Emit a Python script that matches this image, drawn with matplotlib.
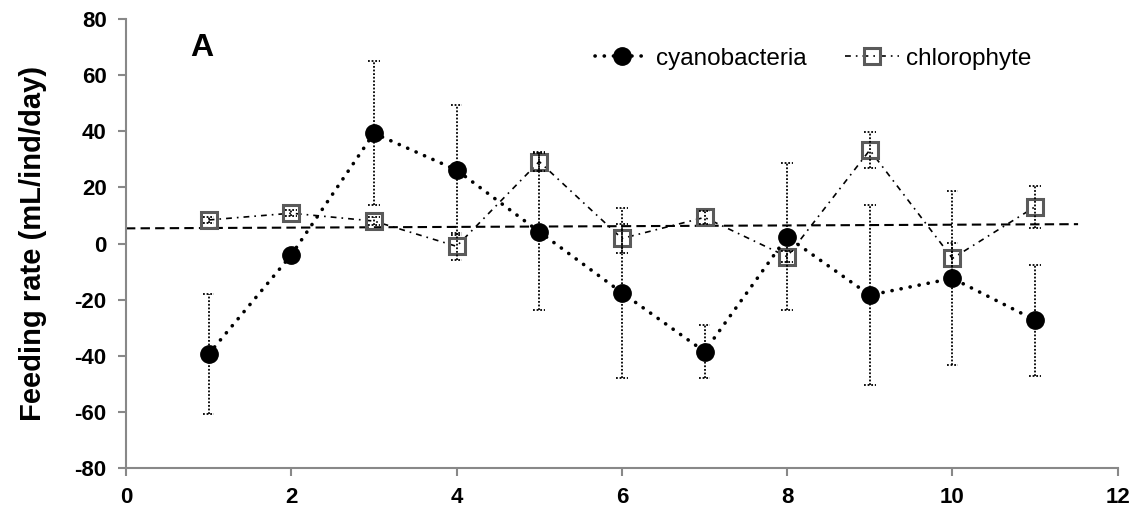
import numpy as np
import matplotlib
matplotlib.use("Agg")
import matplotlib.pyplot as plt

plt.rcParams["font.family"] = ["Liberation Sans", "DejaVu Sans"]
plt.rcParams["axes.unicode_minus"] = False

# ── data ────────────────────────────────────────────────────────────
days = [1, 2, 3, 4, 5, 6, 7, 8, 9, 10, 11]

cyano_mean = [-39.4, -4.1, 39.3, 26.2, 4.2, -17.5, -38.5, 2.4, -18.4, -12.4, -27.3]
cyano_err = [21.5, 0.0, 25.6, 23.2, 27.9, 30.3, 9.5, 26.2, 32.0, 31.0, 19.8]

chloro_mean = [8.4, 10.8, 8.0, -1.0, 29.2, 1.8, 9.3, -4.7, 33.3, -5.3, 13.1]
chloro_err = [1.0, 1.0, 1.5, 4.7, 3.5, 5.3, 2.4, 2.0, 6.5, 5.6, 7.5]

trend_x = [0.0, 11.52]
trend_y = [5.4, 6.9]

x_ticks = [0, 2, 4, 6, 8, 10, 12]
y_ticks = [-80, -60, -40, -20, 0, 20, 40, 60, 80]

AXIS_GREY = "#888888"
CAP_HALF = 0.07

fig = plt.figure(figsize=(11.38, 5.11), dpi=100)
ax = fig.add_axes([0.1107, 0.0841, 0.8715, 0.8787])


def draw_errors(x, y, err):
    x = np.asarray(x, float)
    y = np.asarray(y, float)
    err = np.asarray(err, float)
    ax.vlines(x, y - err, y + err, colors="black", linestyles=(0, (1, 1)),
              lw=1.3, zorder=4)
    for sign in (-1, 1):
        ax.hlines(y + sign * err, x - CAP_HALF, x + CAP_HALF, colors="black",
                  linestyles=(0, (1, 1)), lw=1.3, zorder=4)


# trend line
ax.plot(trend_x, trend_y, color="black", lw=1.5, linestyle=(0, (4.5, 2.5)),
        zorder=1)

# chlorophyte
ax.plot(days, chloro_mean, color="black", lw=1.2,
        linestyle=(0, (3.5, 3.0, 1.0, 3.0)), marker="s", markersize=11,
        markerfacecolor="none", markeredgecolor="#5a5a5a", markeredgewidth=2.2,
        zorder=3, label="chlorophyte")
draw_errors(days, chloro_mean, chloro_err)

# cyanobacteria
ax.plot(days, cyano_mean, color="black", lw=2.6, linestyle=(0, (0.05, 2.5)),
        dash_capstyle="round", marker="o", markersize=12.5,
        markerfacecolor="black", markeredgecolor="black", zorder=3,
        label="cyanobacteria")
draw_errors(days, cyano_mean, cyano_err)

ax.set_xlim(0, 12)
ax.set_ylim(-80, 80)
ax.set_xticks(x_ticks)
ax.set_yticks(y_ticks)
ax.tick_params(axis="both", direction="out", length=6, width=1.5,
               color=AXIS_GREY, labelsize=16, pad=8)
for lab in ax.get_xticklabels() + ax.get_yticklabels():
    lab.set_fontweight("bold")

for side in ("top", "right"):
    ax.spines[side].set_visible(False)
for side in ("left", "bottom"):
    ax.spines[side].set_color(AXIS_GREY)
    ax.spines[side].set_linewidth(1.5)

ax.set_ylabel("Feeding rate (mL/ind/day)", fontsize=21, fontweight="bold",
              labelpad=20)

ax.text(0.92, 69.5, "A", fontsize=23, fontweight="bold", ha="center",
        va="center")

handles, labels = ax.get_legend_handles_labels()
ax.legend(handles[::-1], labels[::-1], loc="upper right", ncol=2,
          frameon=False, fontsize=17.5, handlelength=2.2, handletextpad=0.3,
          columnspacing=1.6, bbox_to_anchor=(0.935, 0.985))

fig.savefig("out.png", dpi=100)
